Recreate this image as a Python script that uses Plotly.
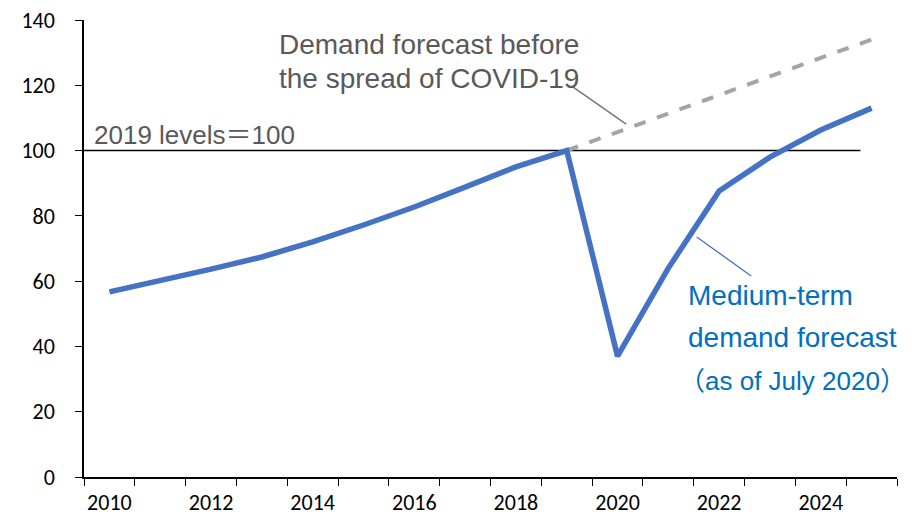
import plotly.graph_objects as go

years = list(range(2010, 2026))
medium_term = [56.7, 60.0, 63.7, 67.4, 72.0, 77.2, 82.7, 88.8, 95.0, 100.0,
               37.0, 64.0, 87.6, 98.0, 106.3, 113.0]
pre_covid_years = [2019, 2020, 2021, 2022, 2023, 2024, 2025]
pre_covid = [100.0, 105.6, 111.3, 117.0, 122.7, 128.4, 134.0]
x_tick_labels = [2010, 2012, 2014, 2016, 2018, 2020, 2022, 2024]
y_ticks = [0, 20, 40, 60, 80, 100, 120, 140]

tick_font = dict(family="Carlito, Liberation Sans Narrow, Arial Narrow, sans-serif", size=22, color="#000000")
ann_font = "Liberation Sans, Arial, Noto Sans CJK JP, sans-serif"

fig = go.Figure()
fig.add_trace(go.Scatter(x=pre_covid_years, y=pre_covid, mode="lines",
                         line=dict(color="#A5A5A5", width=4, dash="dash"),
                         showlegend=False, hoverinfo="skip"))
fig.add_trace(go.Scatter(x=years, y=medium_term, mode="lines",
                         line=dict(color="#4472C4", width=5.5),
                         showlegend=False))

# 2019 = 100 reference line
fig.add_shape(type="line", xref="x", yref="y", x0=2009.5, x1=2024.78, y0=100, y1=100,
              line=dict(color="#000000", width=1.5), layer="below")

# leader lines
fig.add_shape(type="line", xref="x", yref="y", x0=2019.12, y0=119.5, x1=2020.17, y1=108.1,
              line=dict(color="#767676", width=1.5))
fig.add_shape(type="line", xref="x", yref="y", x0=2021.56, y0=73.5, x1=2022.63, y1=61.6,
              line=dict(color="#4472C4", width=1.3))

fig.add_annotation(x=2009.66, y=104.8, xref="x", yref="y", xanchor="left", yanchor="middle",
                   text="2019 levels＝100", showarrow=False,
                   font=dict(family=ann_font, size=26, color="#595959"))
grey_lines = ["Demand forecast before", "the spread of COVID-19"]
grey_y = [132.4, 122.2]
for t, yy in zip(grey_lines, grey_y):
    fig.add_annotation(x=2013.3, y=yy, xref="x", yref="y", xanchor="left", yanchor="middle",
                       text=t, showarrow=False,
                       font=dict(family=ann_font, size=28, color="#595959"))
blue_lines = ["Medium-term", "demand forecast", "（as of July 2020）"]
blue_y = [55.5, 42.6, 29.4]
blue_x = [2021.35, 2021.35, 2021.18]
blue_size = [28, 28, 26]
for t, xx, yy, sz in zip(blue_lines, blue_x, blue_y, blue_size):
    fig.add_annotation(x=xx, y=yy, xref="x", yref="y", xanchor="left", yanchor="middle",
                       text=t, showarrow=False,
                       font=dict(family=ann_font, size=sz, color="#0070C0"))

# The page places the figure 8px in from the top-left corner, so the figure
# is sized to the remaining visible area.
fig.update_layout(
    width=904, height=507,
    margin=dict(l=76, r=15, t=12, b=38),
    paper_bgcolor="white", plot_bgcolor="white",
    showlegend=False,
)
fig.update_xaxes(range=[2009.5, 2025.5], tickmode="array", tickvals=x_tick_labels,
                 ticktext=[str(v) for v in x_tick_labels], ticks="", tickfont=tick_font,
                 automargin=False, ticklabelstandoff=5, ticklabeloverflow="allow",
                 showgrid=False, zeroline=False, showline=True, linecolor="#000000", linewidth=1.5,
                 minor=dict(ticks="outside", tick0=2009.5, dtick=1, ticklen=7,
                            tickcolor="#000000", tickwidth=1.3, showgrid=False))
fig.update_yaxes(range=[0, 140], tickmode="array", tickvals=y_ticks, ticks="outside",
                 ticklen=7, tickcolor="#000000", tickwidth=1.3, tickfont=tick_font,
                 automargin=False, ticklabelstandoff=16, ticklabeloverflow="allow",
                 showgrid=False, zeroline=False, showline=True, linecolor="#000000", linewidth=1.5)

fig.write_html("out.html")
